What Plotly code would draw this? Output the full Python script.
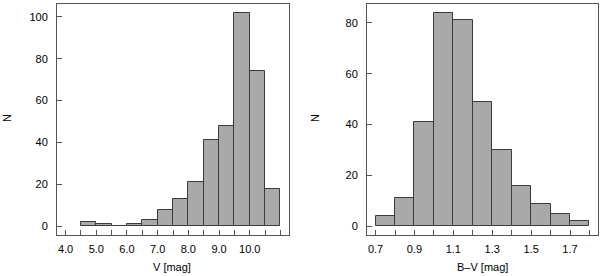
import plotly.graph_objects as go

# Left histogram: V magnitude
v_edges = [4.5, 5.0, 5.5, 6.0, 6.5, 7.0, 7.5, 8.0, 8.5, 9.0, 9.5, 10.0, 10.5, 11.0]
v_counts = [2, 1, 0, 1, 3, 8, 13, 21, 41, 48, 102, 74, 18]
v_tickvals = [4.0, 4.5, 5.0, 5.5, 6.0, 6.5, 7.0, 7.5, 8.0, 8.5, 9.0, 9.5, 10.0, 10.5, 11.0]
v_ticktext = ["4.0", "", "5.0", "", "6.0", "", "7.0", "", "8.0", "", "9.0", "", "10.0", "", ""]

# Right histogram: B-V colour
bv_edges = [0.7, 0.8, 0.9, 1.0, 1.1, 1.2, 1.3, 1.4, 1.5, 1.6, 1.7, 1.8]
bv_counts = [4, 11, 41, 84, 81, 49, 30, 16, 9, 5, 2]
bv_tickvals = [0.7, 0.8, 0.9, 1.0, 1.1, 1.2, 1.3, 1.4, 1.5, 1.6, 1.7, 1.8]
bv_ticktext = ["0.7", "", "0.9", "", "1.1", "", "1.3", "", "1.5", "", "1.7", ""]

y_ticks_left = [0, 20, 40, 60, 80, 100]
y_ticks_right = [0, 20, 40, 60, 80]

BAR = "#a9a9a9"
EDGE = "#3a3a3a"
AX = "#555555"
FONT = dict(family="Liberation Sans, Arial, sans-serif", size=11, color="#000000")


def centers(edges):
    return [(a + b) / 2 for a, b in zip(edges[:-1], edges[1:])]


def widths(edges):
    return [b - a for a, b in zip(edges[:-1], edges[1:])]


fig = go.Figure()
fig.add_trace(go.Bar(x=centers(v_edges), y=v_counts, width=widths(v_edges),
                     marker=dict(color=BAR, line=dict(color=EDGE, width=1)),
                     xaxis="x", yaxis="y", showlegend=False))
fig.add_trace(go.Bar(x=centers(bv_edges), y=bv_counts, width=widths(bv_edges),
                     marker=dict(color=BAR, line=dict(color=EDGE, width=1)),
                     xaxis="x2", yaxis="y2", showlegend=False))

v_span = v_tickvals[-1] - v_tickvals[0]
bv_span = bv_edges[-1] - bv_edges[0]
v_range = [v_tickvals[0] - 0.04 * v_span, v_tickvals[-1] + 0.04 * v_span]
bv_range = [bv_edges[0] - 0.04 * bv_span, bv_edges[-1] + 0.04 * bv_span]
vy_max = max(v_counts)
bvy_max = max(bv_counts)

common_x = dict(showgrid=False, zeroline=False, showline=True, linecolor=AX, linewidth=1,
                mirror=True, ticks="inside", ticklen=5, tickcolor=AX, tickfont=FONT,
                ticklabelstandoff=4)
common_y = dict(showgrid=False, zeroline=False, showline=True, linecolor=AX, linewidth=1,
                mirror=True, ticks="inside", ticklen=5, tickcolor=AX, tickfont=FONT,
                ticklabelstandoff=6)

ydom = [1 - 235 / 276, 1 - 4 / 276]

fig.update_layout(
    width=600, height=276,
    margin=dict(l=0, r=0, t=0, b=0),
    paper_bgcolor="white", plot_bgcolor="white",
    bargap=0, font=FONT,
    xaxis=dict(domain=[57 / 600, 289 / 600], range=v_range, tickmode="array",
               tickvals=v_tickvals, ticktext=v_ticktext, anchor="y", **common_x),
    yaxis=dict(domain=ydom, range=[-0.04 * vy_max, vy_max * 1.04], tickmode="array",
               tickvals=y_ticks_left, anchor="x", **common_y),
    xaxis2=dict(domain=[367 / 600, 598 / 600], range=bv_range, tickmode="array",
                tickvals=bv_tickvals, ticktext=bv_ticktext, anchor="y2", **common_x),
    yaxis2=dict(domain=ydom, range=[-0.04 * bvy_max, bvy_max * 1.04], tickmode="array",
                tickvals=y_ticks_right, anchor="x2", **common_y),
    annotations=[
        dict(text="V [mag]", x=172 / 600, y=1 - 267 / 276, xref="paper", yref="paper",
             showarrow=False, font=FONT, xanchor="center", yanchor="middle"),
        dict(text="B\u2013V [mag]", x=482 / 600, y=1 - 267 / 276, xref="paper", yref="paper",
             showarrow=False, font=FONT, xanchor="center", yanchor="middle"),
        dict(text="N", x=7 / 600, y=1 - 118 / 276, xref="paper", yref="paper", textangle=-90,
             showarrow=False, font=FONT, xanchor="center", yanchor="middle"),
        dict(text="N", x=315 / 600, y=1 - 118 / 276, xref="paper", yref="paper", textangle=-90,
             showarrow=False, font=FONT, xanchor="center", yanchor="middle"),
    ],
)

fig.write_html("out.html", config={"displayModeBar": False},
               post_script="document.body.style.margin='0';document.body.style.overflow='hidden';")
